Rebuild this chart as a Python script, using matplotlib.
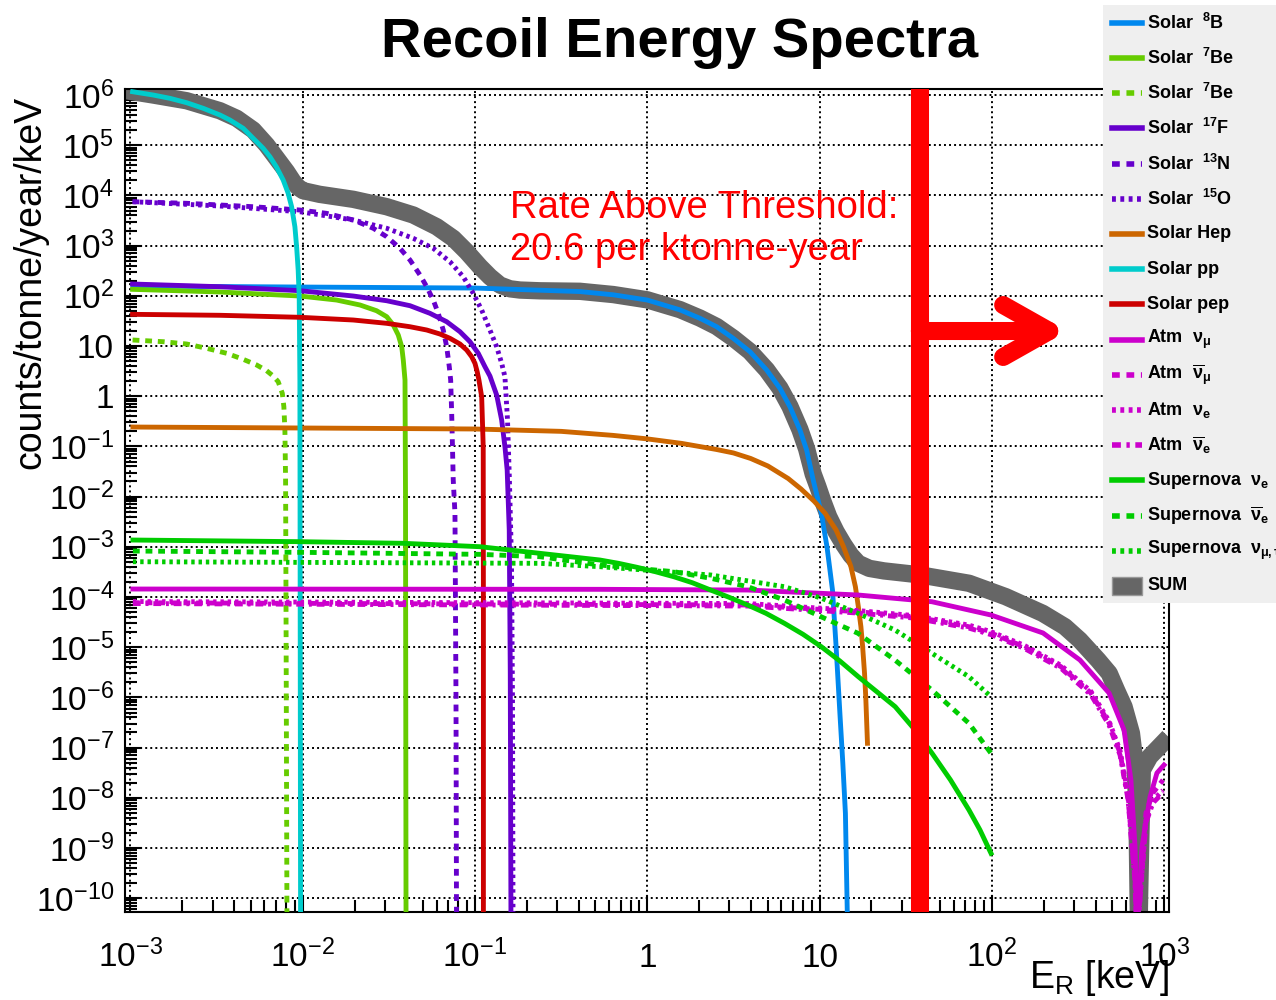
import numpy as np
import matplotlib
matplotlib.use('Agg')
import matplotlib.pyplot as plt
from matplotlib import ticker
from matplotlib.patches import Rectangle

plt.rcParams['font.family'] = ['Liberation Sans', 'DejaVu Sans']
plt.rcParams['mathtext.default'] = 'regular'

# spectra as log10(E_R / keV) and log10(counts/tonne/year/keV)
b8_x = [-2.985, -2.016, -1.0, -0.391, -0.197, 0.0, 0.190, 0.306, 0.403, 0.499, 0.596, 0.693, 0.770,
        0.828, 0.886, 0.925, 0.963, 1.010, 1.043, 1.075, 1.096, 1.118, 1.135, 1.150, 1.162]
b8_y = [2.195, 2.175, 2.155, 2.085, 2.020, 1.916, 1.720, 1.552, 1.384, 1.153, 0.887, 0.522, 0.157,
        -0.209, -0.673, -1.072, -1.669, -2.333, -2.998, -3.861, -4.990, -6.317, -7.313, -8.309, -10.5]

be7_x = [-2.987, -2.480, -2.016, -1.803, -1.667, -1.571, -1.512, -1.474, -1.445, -1.425, -1.416, -1.406, -1.403, -1.400]
be7_y = [2.129, 2.076, 1.996, 1.916, 1.817, 1.703, 1.584, 1.418, 1.219, 0.986, 0.721, 0.323, -2.0, -10.5]

be7b_x = [-2.987, -2.809, -2.673, -2.557, -2.441, -2.345, -2.267, -2.209, -2.171, -2.142, -2.118, -2.109,
          -2.103, -2.099, -2.097, -2.091]
be7b_y = [1.120, 1.086, 1.040, 0.954, 0.855, 0.735, 0.622, 0.508, 0.402, 0.289, 0.058, -0.209,
          -0.673, -1.669, -3.661, -10.5]

f17_x = [-2.987, -2.480, -2.016, -1.706, -1.512, -1.377, -1.261, -1.164, -1.087, -1.029, -0.981, -0.942,
         -0.913, -0.874, -0.845, -0.826, -0.813, -0.801, -0.795, -0.791]
f17_y = [2.235, 2.181, 2.102, 1.996, 1.902, 1.803, 1.651, 1.484, 1.285, 1.086, 0.855, 0.588,
         0.402, 0.024, -0.474, -1.006, -1.470, -2.665, -5.514, -10.5]

n13_x = [-2.987, -2.673, -2.480, -2.287, -2.016, -1.861, -1.706, -1.590, -1.512, -1.435, -1.377, -1.319,
         -1.280, -1.242, -1.213, -1.184, -1.164, -1.149, -1.141, -1.135, -1.126, -1.116, -1.110, -1.107]
n13_y = [3.875, 3.843, 3.809, 3.775, 3.709, 3.643, 3.510, 3.345, 3.177, 2.946, 2.713, 2.414,
         2.181, 1.916, 1.651, 1.319, 0.986, 0.588, 0.323, -0.341, -1.669, -2.333, -6.052, -10.5]

o15_x = [-2.987, -2.480, -2.016, -1.706, -1.512, -1.358, -1.242, -1.145, -1.068, -1.010, -0.961, -0.913,
         -0.874, -0.845, -0.826, -0.811, -0.800, -0.788, -0.782, -0.779]
o15_y = [3.875, 3.789, 3.675, 3.510, 3.345, 3.145, 2.946, 2.679, 2.380, 2.050, 1.717, 1.319,
         0.986, 0.655, 0.388, -0.474, -1.669, -3.263, -6.052, -10.5]

hep_x = [-2.985, -2.016, -1.0, -0.5, -0.2, 0.0, 0.2, 0.4, 0.5, 0.6, 0.7, 0.818, 0.893, 0.968, 1.032, 1.096,
         1.139, 1.182, 1.208, 1.225, 1.240, 1.250, 1.261, 1.268, 1.278]
hep_y = [-0.614, -0.633, -0.653, -0.700, -0.780, -0.850, -0.940, -1.060, -1.130, -1.240, -1.390, -1.640, -1.850,
         -2.090, -2.333, -2.665, -2.998, -3.396, -3.795, -4.193, -4.592, -4.990, -5.520, -5.986, -6.914]

pp_x = [-2.987, -2.867, -2.770, -2.673, -2.577, -2.480, -2.422, -2.345, -2.287, -2.229, -2.190, -2.151,
        -2.113, -2.084, -2.064, -2.045, -2.035, -2.026, -2.020, -2.016, -2.012]
pp_y = [6.066, 6.0, 5.934, 5.847, 5.735, 5.602, 5.502, 5.337, 5.137, 4.938, 4.771, 4.560,
        4.307, 4.042, 3.775, 3.376, 2.978, 2.514, 1.982, 0.323, -10.5]

pep_x = [-2.987, -2.480, -2.016, -1.706, -1.512, -1.377, -1.280, -1.203, -1.145, -1.087, -1.048, -1.019,
         -1.0, -0.987, -0.977, -0.961, -0.952, -0.951, -0.951]
pep_y = [1.631, 1.612, 1.572, 1.518, 1.452, 1.384, 1.319, 1.239, 1.153, 1.040, 0.920, 0.787,
         0.655, 0.488, 0.323, -0.010, -1.006, -4.06, -10.5]

atm_mu_x = [-2.985, -0.275, 0.584, 1.223, 1.652, 1.995, 2.297, 2.511, 2.680, 2.767, 2.807, 2.831, 2.842, 2.871, 2.918, 2.958, 2.999]
atm_mu_y = [-3.841, -3.847, -3.861, -3.960, -4.094, -4.359, -4.717, -5.255, -5.912, -6.649, -7.645, -8.980, -10.8, -8.980, -7.984, -7.506, -7.347]

atm_mubar_x = [-2.985, 0.584, 1.223, 1.548, 1.867, 1.995, 2.186, 2.401, 2.575, 2.680, 2.744, 2.790, 2.831, 2.842, 2.894, 2.935, 2.993]
atm_mubar_y = [-4.114, -4.159, -4.293, -4.393, -4.592, -4.717, -4.990, -5.388, -5.912, -6.510, -7.108, -7.984, -9.637, -10.8, -8.303, -7.904, -7.645]

atm_e_x = [-2.985, 0.584, 1.223, 1.548, 1.867, 1.995, 2.186, 2.401, 2.575, 2.680, 2.744, 2.790, 2.831, 2.842, 2.894, 2.935, 2.993]
atm_e_y = [-4.09, -4.13, -4.27, -4.37, -4.56, -4.69, -4.96, -5.36, -5.88, -6.47, -7.06, -7.93, -9.55, -10.8, -8.45, -8.05, -7.85]

atm_ebar_x = [-2.985, 0.584, 1.223, 1.548, 1.867, 1.995, 2.186, 2.401, 2.575, 2.680, 2.744, 2.790, 2.831, 2.842, 2.894, 2.935, 2.993]
atm_ebar_y = [-4.13, -4.18, -4.32, -4.42, -4.62, -4.75, -5.02, -5.42, -5.95, -6.55, -7.15, -8.03, -9.70, -10.8, -8.50, -8.10, -7.90]

sn_e_x = [-2.985, -2.016, -1.418, -0.971, -0.623, -0.275, -0.167, -0.060, 0.047, 0.154, 0.261, 0.368, 0.475,
          0.582, 0.689, 0.796, 0.904, 1.010, 1.118, 1.225, 1.332, 1.439, 1.546, 1.653, 1.760, 1.867, 1.931, 1.995]
sn_e_y = [-2.865, -2.898, -2.930, -2.998, -3.130, -3.263, -3.329, -3.408, -3.496, -3.596, -3.715, -3.861, -4.006,
          -4.159, -4.325, -4.524, -4.743, -4.990, -5.275, -5.588, -5.886, -6.185, -6.616, -7.114, -7.645, -8.243, -8.641, -9.106]

sn_ebar_x = [-2.985, -2.016, -0.971, -0.623, -0.275, 0.155, 0.370, 0.584, 0.796, 1.008, 1.223, 1.437, 1.652, 1.867, 1.995]
sn_ebar_y = [-3.084, -3.110, -3.150, -3.197, -3.363, -3.496, -3.628, -3.795, -4.060, -4.392, -4.723, -5.255, -5.853, -6.516, -7.114]

sn_mutau_x = [-2.985, -0.623, -0.275, 0.370, 0.796, 1.008, 1.223, 1.437, 1.652, 1.867, 1.995]
sn_mutau_y = [-3.297, -3.329, -3.396, -3.562, -3.795, -4.020, -4.325, -4.657, -5.122, -5.588, -5.986]

sum_x = [-2.987, -2.867, -2.673, -2.480, -2.383, -2.287, -2.209, -2.151, -2.093, -2.055, -2.026, -1.997,
         -1.902, -1.706, -1.512, -1.358, -1.222, -1.126, -1.048, -0.971, -0.913, -0.855, -0.797, -0.739,
         -0.623, -0.391, -0.197, 0.0, 0.190, 0.306, 0.403, 0.499, 0.596, 0.693, 0.770, 0.828, 0.886, 0.925,
         0.963, 0.990, 1.020, 1.053, 1.096, 1.139, 1.182, 1.225, 1.289, 1.374, 1.589, 1.868, 2.081, 2.295,
         2.424, 2.510, 2.616, 2.681, 2.724, 2.767, 2.810, 2.831, 2.842, 2.852, 2.873, 2.916, 2.991]
sum_y = [6.066, 6.0, 5.886, 5.687, 5.536, 5.303, 5.004, 4.739, 4.472, 4.273, 4.161, 4.094,
         4.022, 3.922, 3.775, 3.610, 3.376, 3.145, 2.878, 2.580, 2.380, 2.215, 2.140, 2.115,
         2.100, 2.090, 2.025, 1.920, 1.725, 1.556, 1.388, 1.157, 0.891, 0.526, 0.161, -0.205, -0.665, -1.050,
         -1.550, -1.800, -2.100, -2.400, -2.700, -2.950, -3.170, -3.330, -3.430, -3.480, -3.562, -3.727, -3.994, -4.325,
         -4.592, -4.857, -5.255, -5.520, -5.861, -6.185, -6.715, -7.313, -8.303, -10.8, -7.446, -7.181, -6.914]

threshold_keV = 38.2
rate_text = ['Rate Above Threshold:', '20.6 per ktonne-year']

DASH = (0, (1.4, 1.2))
DOT = (0, (0.7, 0.8))
DASHDOT = (0, (1.6, 1.0, 0.6, 1.0))

series = [
    (b8_x, b8_y, 'Solar  $^{8}$B', '#0088ee', '-'),
    (be7_x, be7_y, 'Solar  $^{7}$Be', '#66cc00', '-'),
    (be7b_x, be7b_y, 'Solar  $^{7}$Be', '#66cc00', DASH),
    (f17_x, f17_y, 'Solar  $^{17}$F', '#6600cc', '-'),
    (n13_x, n13_y, 'Solar  $^{13}$N', '#6600cc', DASH),
    (o15_x, o15_y, 'Solar  $^{15}$O', '#6600cc', DOT),
    (hep_x, hep_y, 'Solar Hep', '#cc6600', '-'),
    (pp_x, pp_y, 'Solar pp', '#00cccc', '-'),
    (pep_x, pep_y, 'Solar pep', '#cc0000', '-'),
    (atm_mu_x, atm_mu_y, r'Atm  $\nu_{\mu}$', '#cc00cc', '-'),
    (atm_mubar_x, atm_mubar_y, r'Atm  $\overline{\nu}_{\mu}$', '#cc00cc', DASH),
    (atm_e_x, atm_e_y, r'Atm  $\nu_{e}$', '#cc00cc', DOT),
    (atm_ebar_x, atm_ebar_y, r'Atm  $\overline{\nu}_{e}$', '#cc00cc', DASHDOT),
    (sn_e_x, sn_e_y, r'Supernova  $\nu_{e}$', '#00cc00', '-'),
    (sn_ebar_x, sn_ebar_y, r'Supernova  $\overline{\nu}_{e}$', '#00cc00', DASH),
    (sn_mutau_x, sn_mutau_y, r'Supernova  $\nu_{\mu,\tau}$', '#00cc00', DOT),
]

W, H = 1276, 1000
fig = plt.figure(figsize=(W / 100, H / 100), dpi=100)
ax = fig.add_axes([125 / W, 88 / H, 1044 / W, 823 / H])

ax.plot(10 ** np.array(sum_x), 10 ** np.array(sum_y), color='#666666', lw=12.5, zorder=2,
        solid_joinstyle='round')
for xs, ys, label, color, ls in series:
    ax.plot(10 ** np.array(xs), 10 ** np.array(ys), color=color, ls=ls, lw=3.5, zorder=3)

ax.set_xscale('log')
ax.set_yscale('log')
ax.set_xlim(10 ** -3.031, 10 ** 3.028)
ax.set_ylim(10 ** -10.275, 10 ** 6.12)


def root_fmt(v, pos):
    n = int(round(np.log10(v)))
    if n == 0:
        return '1'
    if n == 1:
        return '10'
    return r'$10^{%d}$' % n


ax.set_xticks(10.0 ** np.arange(-3, 4))
ax.set_yticks(10.0 ** np.arange(-10, 7))
ax.xaxis.set_major_formatter(ticker.FuncFormatter(root_fmt))
ax.yaxis.set_major_formatter(ticker.FuncFormatter(root_fmt))
ax.xaxis.set_minor_locator(ticker.LogLocator(base=10, subs=np.arange(2, 10) * 1.0, numticks=200))
ax.yaxis.set_minor_locator(ticker.LogLocator(base=10, subs=np.arange(2, 10) * 1.0, numticks=200))
ax.xaxis.set_minor_formatter(ticker.NullFormatter())
ax.yaxis.set_minor_formatter(ticker.NullFormatter())

ax.tick_params(which='both', direction='in', top=False, right=False, width=1.5, labelsize=24)
ax.tick_params(which='major', length=12)
ax.tick_params(which='minor', length=8.5)
ax.tick_params(axis='x', pad=39.5)
ax.tick_params(axis='y', pad=8)
plt.setp(ax.get_xticklabels(), va='baseline')
for sp in ax.spines.values():
    sp.set_linewidth(1.5)

ax.grid(which='major', color='black', lw=1.4, ls=(0, (1, 1.6)))
ax.set_axisbelow(True)

# threshold line and arrow
ax.axvline(threshold_keV, color='red', lw=13, zorder=5)
ax.annotate('', xy=(275, 19.9), xytext=(threshold_keV, 19.9),
            arrowprops=dict(arrowstyle='->,head_length=1.95,head_width=1.1', color='red',
                            lw=13, shrinkA=0, shrinkB=0, mutation_scale=17), zorder=5)
ax.text(0.369, 0.843, rate_text[0], transform=ax.transAxes, color='red', fontsize=27.5, va='baseline')
ax.text(0.369, 0.792, rate_text[1], transform=ax.transAxes, color='red', fontsize=27.5, va='baseline')

fig.text(680 / W, 1 - 57 / H, 'Recoil Energy Spectra', ha='center', va='baseline',
         fontsize=40.5, fontweight='bold')
fig.text(30 / W, 1 - 282 / H, 'counts/tonne/year/keV', rotation=90, ha='center', va='center', fontsize=27)
fig.text(1170 / W, 1 - 988 / H, r'E$_{R}$ [keV]', ha='right', va='baseline', fontsize=27)

# legend box
lax = fig.add_axes([1103 / W, 1 - 603 / H, (W - 1103) / W, 598 / H])
lax.set_xlim(0, W - 1103)
lax.set_ylim(598, 0)
lax.set_facecolor('#efefef')
lax.set_xticks([])
lax.set_yticks([])
for sp in lax.spines.values():
    sp.set_visible(False)
entries = [(s[2], s[3], s[4]) for s in series] + [('SUM', '#666666', None)]
for i, (label, color, ls) in enumerate(entries):
    y = 17.7 + 35.2 * i
    if ls is None:
        lax.add_patch(Rectangle((9, y - 9), 30, 18, facecolor=color, edgecolor='#999999', lw=1))
    else:
        lax.plot([9, 39], [y, y], color=color, ls=ls, lw=4)
    lax.text(44, y, label, va='center', ha='left', fontsize=13, fontweight='bold', clip_on=False)

fig.savefig('out.png', dpi=100)
